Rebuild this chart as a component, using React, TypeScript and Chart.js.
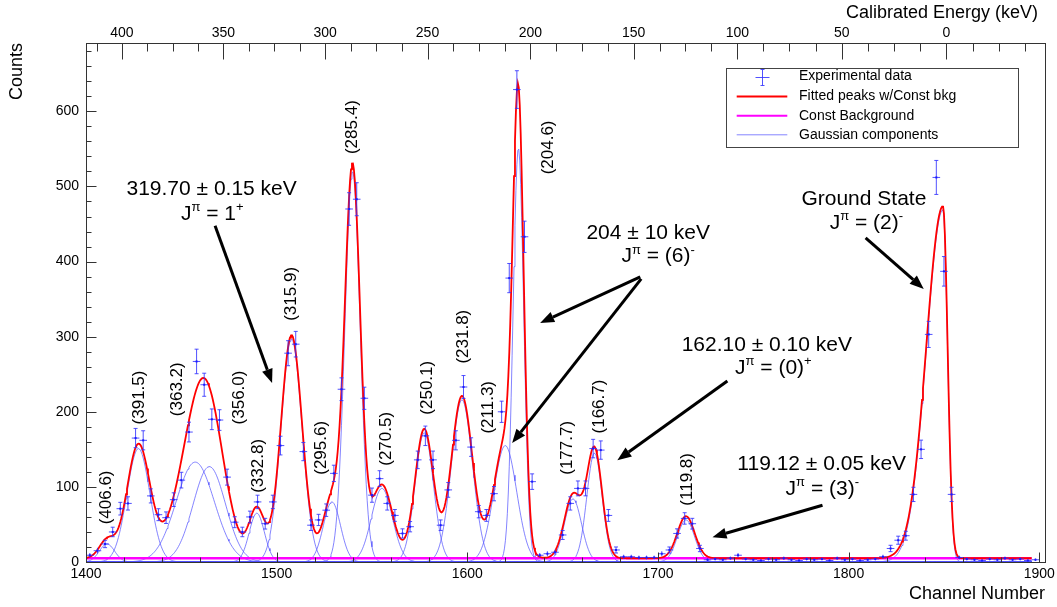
import React, { useEffect, useRef } from "react";
import { Chart, registerables } from "chart.js";

Chart.register(...registerables);

const FONT = "'Liberation Sans', Arial, Helvetica, sans-serif";

// ---------- Axis ranges / ticks ----------
const X_RANGE = [1400, 1903];
const Y_RANGE = [0, 691];
const FIT_RANGE = [1400, 1896];
const xMajorTicks = [1400, 1500, 1600, 1700, 1800, 1900];
const X_MINOR_STEP = 20;
const yMajorTicks = [0, 100, 200, 300, 400, 500, 600];
const Y_MINOR_STEP = 20;
const energyMajorTicks = [400, 350, 300, 250, 200, 150, 100, 50, 0];
const ENERGY_MINOR_STEP = 12.5;
// channel = c0 + c1*E + c2*E^2 (calibration of the top axis)
const energyCalibration = [1851.3, -1.1013, 5.04e-5];

// ---------- Experimental data (4-channel bins) ----------
const binChannels = [
  1402, 1406, 1410, 1414, 1418, 1422, 1426, 1430, 1434, 1438, 1442, 1446, 1450, 1454, 1458, 1462,
  1466, 1470, 1474, 1478, 1482, 1486, 1490, 1494, 1498, 1502, 1506, 1510, 1514, 1518, 1522, 1526,
  1530, 1534, 1538, 1542, 1546, 1550, 1554, 1558, 1562, 1566, 1570, 1574, 1578, 1582, 1586, 1590,
  1594, 1598, 1602, 1606, 1610, 1614, 1618, 1622, 1626, 1630, 1634, 1638, 1642, 1646, 1650, 1654,
  1658, 1662, 1666, 1670, 1674, 1678, 1682, 1686, 1690, 1694, 1698, 1702, 1706, 1710, 1714, 1718,
  1722, 1726, 1730, 1734, 1738, 1742, 1746, 1750, 1754, 1758, 1762, 1766, 1770, 1774, 1778, 1782,
  1786, 1790, 1794, 1798, 1802, 1806, 1810, 1814, 1818, 1822, 1826, 1830, 1834, 1838, 1842, 1846,
  1850, 1854, 1858, 1862, 1866, 1870, 1874, 1878, 1882, 1886, 1890, 1894, 1898,
];
const binCounts = [
  9, 15, 24, 40, 71, 78, 165, 162, 88, 63, 59, 83, 109, 173, 267, 236,
  190, 189, 113, 53, 40, 60, 80, 51, 80, 155, 278, 290, 147, 49, 56, 69,
  118, 230, 470, 483, 218, 89, 111, 78, 62, 38, 47, 136, 168, 136, 49, 96,
  162, 233, 153, 67, 62, 91, 200, 378, 629, 433, 107, 9, 11, 13, 36, 78,
  98, 98, 151, 149, 62, 16, 7, 7, 6, 6, 6, 11, 16, 38, 58, 51,
  18, 3, 4, 3, 5, 9, 4, 3, 2, 4, 3, 5, 3, 2, 4, 3,
  4, 2, 5, 3, 4, 2, 3, 4, 7, 18, 29, 35, 90, 150, 303, 512,
  387, 90, 6, 4, 3, 2, 4, 3, 5, 3, 4, 2, 3,
];
const BIN_HALF_WIDTH = 2;

// ---------- Fit parameters (Gaussian components) ----------
const CONST_BKG = 5;
const peakCenters = [1411, 1427.5, 1457.3, 1464.7, 1489.6, 1507.8, 1529, 1539.8, 1555.2, 1577.4, 1597.2, 1619.9, 1626.8, 1655.4, 1666.7, 1714.7, 1849.5];
const peakAmplitudes = [24, 151, 133, 127, 65, 297, 80, 520, 98, 172, 216, 155, 551, 84, 145, 56, 469];
const peakSigmaLeft = [4, 6, 10, 8.5, 4, 5.5, 4.5, 4, 5.5, 4.8, 5.5, 6, 2.8, 4.5, 4, 4.5, 8.7];
const peakSigmaRight = [4, 6, 10, 8.5, 4, 5.5, 4.5, 4, 5.5, 4.8, 5.5, 6, 2.8, 4.5, 4, 4.5, 2.4];

// ---------- Peak energy labels ----------
const peakLabelText = ["(406.6)", "(391.5)", "(363.2)", "(356.0)", "(332.8)", "(315.9)", "(295.6)", "(285.4)", "(270.5)", "(250.1)", "(231.8)", "(211.3)", "(204.6)", "(177.7)", "(166.7)", "(119.8)"];
const peakLabelChannel = [1410, 1427.5, 1447.6, 1480, 1489.6, 1507.4, 1522.8, 1539, 1557, 1578.3, 1597.2, 1610.3, 1641.8, 1651.9, 1668.8, 1714.7];
const peakLabelCount = [86, 219, 230, 219, 128, 357, 152, 579, 164, 232, 300, 206, 552, 152, 207, 110];

// ---------- Annotations ----------
// braces mark superscripts
const noteText = [
  "319.70 ± 0.15 keV", "J{π} = 1{+}",
  "204 ± 10 keV", "J{π} = (6){-}",
  "162.10 ± 0.10 keV", "J{π} = (0){+}",
  "119.12 ± 0.05 keV", "J{π} = (3){-}",
  "Ground State", "J{π} = (2){-}",
];
const noteChannel = [1465.9, 1466.2, 1694.9, 1700.1, 1757.1, 1760.5, 1785.9, 1786.2, 1808, 1809.3];
const noteCount = [499, 465, 440, 409, 291.6, 261, 133, 99.6, 485.6, 453];

const arrowFromChannel = [1467.7, 1690.7, 1691.2, 1736.4, 1786.3, 1808.9];
const arrowFromCount = [447.6, 379.6, 376.9, 241, 75.6, 431.6];
const arrowToChannel = [1497.6, 1638.2, 1623.5, 1678.7, 1728.6, 1839.4];
const arrowToCount = [238.3, 318.3, 158.3, 135.6, 33, 363.6];

const legendLabels = ["Experimental data", "Fitted peaks w/Const bkg", "Const Background", "Gaussian components"];

// ---------- Colors ----------
const DATA_COLOR = "rgba(50,50,255,0.85)";
const FIT_COLOR = "#ff0000";
const BKG_COLOR = "#ff00ff";
const COMP_COLOR = "rgba(80,80,255,0.7)";

function peakValue(i: number, x: number): number {
  const s = x < peakCenters[i] ? peakSigmaLeft[i] : peakSigmaRight[i];
  const d = (x - peakCenters[i]) / s;
  return peakAmplitudes[i] * Math.exp(-0.5 * d * d);
}

function sampleGrid(): number[] {
  const xs: number[] = [];
  for (let x = FIT_RANGE[0]; x <= FIT_RANGE[1] + 1e-9; x += 0.5) xs.push(x);
  return xs;
}

function energyToChannel(e: number): number {
  return energyCalibration[0] + energyCalibration[1] * e + energyCalibration[2] * e * e;
}

function parseRich(s: string): { t: string; sup: boolean }[] {
  const out: { t: string; sup: boolean }[] = [];
  const re = /\{([^}]*)\}|([^{]+)/g;
  let m: RegExpExecArray | null;
  while ((m = re.exec(s))) {
    if (m[1] !== undefined) out.push({ t: m[1], sup: true });
    else out.push({ t: m[2], sup: false });
  }
  return out;
}

function drawRich(ctx: CanvasRenderingContext2D, text: string, cx: number, cy: number, size: number) {
  const segs = parseRich(text);
  const big = `${size}px ${FONT}`;
  const small = `${Math.round(size * 0.64)}px ${FONT}`;
  let w = 0;
  for (const s of segs) {
    ctx.font = s.sup ? small : big;
    w += ctx.measureText(s.t).width;
  }
  let x = cx - w / 2;
  const base = cy + size * 0.36;
  ctx.textAlign = "left";
  ctx.textBaseline = "alphabetic";
  for (const s of segs) {
    ctx.font = s.sup ? small : big;
    ctx.fillText(s.t, x, s.sup ? base - size * 0.42 : base);
    x += ctx.measureText(s.t).width;
  }
}

function drawArrow(ctx: CanvasRenderingContext2D, x0: number, y0: number, x1: number, y1: number) {
  const ang = Math.atan2(y1 - y0, x1 - x0);
  const len = 14;
  const half = 5.5;
  const bx = x1 - len * Math.cos(ang);
  const by = y1 - len * Math.sin(ang);
  ctx.save();
  ctx.strokeStyle = "#000";
  ctx.fillStyle = "#000";
  ctx.lineWidth = 3;
  ctx.beginPath();
  ctx.moveTo(x0, y0);
  ctx.lineTo(bx, by);
  ctx.stroke();
  ctx.beginPath();
  ctx.moveTo(x1, y1);
  ctx.lineTo(bx + half * Math.sin(ang), by - half * Math.cos(ang));
  ctx.lineTo(bx - half * Math.sin(ang), by + half * Math.cos(ang));
  ctx.closePath();
  ctx.fill();
  ctx.restore();
}

function drawErrorCross(ctx: CanvasRenderingContext2D, px: number, py: number, hx: number, hyTop: number, hyBot: number) {
  ctx.beginPath();
  ctx.moveTo(px - hx, py);
  ctx.lineTo(px + hx, py);
  ctx.moveTo(px, py - hyTop);
  ctx.lineTo(px, py + hyBot);
  if (hyTop > 3) {
    ctx.moveTo(px - 2, py - hyTop);
    ctx.lineTo(px + 2, py - hyTop);
  }
  if (hyBot > 3) {
    ctx.moveTo(px - 2, py + hyBot);
    ctx.lineTo(px + 2, py + hyBot);
  }
  ctx.stroke();
}

const overlayPlugin = {
  id: "rootOverlay",
  afterDatasetsDraw(chart: any) {
    const ctx: CanvasRenderingContext2D = chart.ctx;
    const xs = chart.scales.x;
    const ys = chart.scales.y;
    const ca = chart.chartArea;
    ctx.save();
    ctx.beginPath();
    ctx.rect(ca.left, ca.top, ca.right - ca.left, ca.bottom - ca.top);
    ctx.clip();
    // data with error bars
    ctx.strokeStyle = DATA_COLOR;
    ctx.lineWidth = 1;
    for (let i = 0; i < binChannels.length; i++) {
      const c = binCounts[i];
      const err = Math.sqrt(c);
      const px = xs.getPixelForValue(binChannels[i]);
      const py = ys.getPixelForValue(c);
      const hx = Math.abs(xs.getPixelForValue(binChannels[i] + BIN_HALF_WIDTH) - px);
      const top = py - ys.getPixelForValue(c + err);
      const bot = ys.getPixelForValue(Math.max(0, c - err)) - py;
      drawErrorCross(ctx, px, py, hx, top, bot);
      ctx.fillStyle = "#1a1aff";
      ctx.fillRect(px - 1, py - 1, 2, 2);
    }
    ctx.restore();
  },
  afterDraw(chart: any) {
    const ctx: CanvasRenderingContext2D = chart.ctx;
    const xs = chart.scales.x;
    const ys = chart.scales.y;
    const ca = chart.chartArea;
    ctx.save();

    // frame
    ctx.strokeStyle = "#333";
    ctx.lineWidth = 1;
    const L = Math.round(ca.left) + 0.5;
    const R = Math.round(ca.right) + 0.5;
    const T = Math.round(ca.top) + 0.5;
    const B = Math.round(ca.bottom) + 0.5;
    ctx.strokeRect(L, T, R - L, B - T);

    ctx.beginPath();
    // bottom ticks
    for (let v = X_RANGE[0]; v <= X_RANGE[1]; v += X_MINOR_STEP) {
      const px = Math.round(xs.getPixelForValue(v)) + 0.5;
      const major = xMajorTicks.includes(v);
      ctx.moveTo(px, B);
      ctx.lineTo(px, B - (major ? 10 : 5));
    }
    // left ticks
    for (let v = Y_RANGE[0]; v <= Y_RANGE[1]; v += Y_MINOR_STEP) {
      const py = Math.round(ys.getPixelForValue(v)) + 0.5;
      const major = yMajorTicks.includes(v);
      ctx.moveTo(L, py);
      ctx.lineTo(L + (major ? 10 : 5), py);
    }
    // top energy ticks
    for (let e = energyMajorTicks[0] + 2 * ENERGY_MINOR_STEP; e >= -4 * ENERGY_MINOR_STEP; e -= ENERGY_MINOR_STEP) {
      const ch = energyToChannel(e);
      if (ch < X_RANGE[0] || ch > X_RANGE[1]) continue;
      const px = Math.round(xs.getPixelForValue(ch)) + 0.5;
      const major = energyMajorTicks.includes(e);
      ctx.moveTo(px, T);
      ctx.lineTo(px, T + (major ? 16 : 8));
    }
    ctx.stroke();

    // tick labels
    ctx.fillStyle = "#000";
    ctx.font = `14px ${FONT}`;
    ctx.textAlign = "center";
    ctx.textBaseline = "middle";
    for (const v of xMajorTicks) ctx.fillText(String(v), xs.getPixelForValue(v), ca.bottom + 12);
    for (const e of energyMajorTicks) ctx.fillText(String(e), xs.getPixelForValue(energyToChannel(e)), ca.top - 10);
    ctx.textAlign = "right";
    for (const v of yMajorTicks) ctx.fillText(String(v), ca.left - 7, ys.getPixelForValue(v));

    // axis titles
    ctx.font = `18px ${FONT}`;
    ctx.textAlign = "right";
    ctx.textBaseline = "middle";
    ctx.fillText("Channel Number", ca.right, ca.bottom + 32);
    ctx.fillText("Calibrated Energy (keV)", ca.right - 7, 13);
    ctx.save();
    ctx.translate(17, ca.top);
    ctx.rotate(-Math.PI / 2);
    ctx.textAlign = "right";
    ctx.fillText("Counts", 0, 0);
    ctx.restore();

    // peak labels (rotated)
    ctx.font = `17px ${FONT}`;
    ctx.textAlign = "center";
    ctx.textBaseline = "middle";
    for (let i = 0; i < peakLabelText.length; i++) {
      ctx.save();
      ctx.translate(xs.getPixelForValue(peakLabelChannel[i]), ys.getPixelForValue(peakLabelCount[i]));
      ctx.rotate(-Math.PI / 2);
      ctx.fillText(peakLabelText[i], 0, 1);
      ctx.restore();
    }

    // annotations
    for (let i = 0; i < noteText.length; i++) {
      drawRich(ctx, noteText[i], xs.getPixelForValue(noteChannel[i]), ys.getPixelForValue(noteCount[i]), 21);
    }
    for (let i = 0; i < arrowFromChannel.length; i++) {
      drawArrow(
        ctx,
        xs.getPixelForValue(arrowFromChannel[i]),
        ys.getPixelForValue(arrowFromCount[i]),
        xs.getPixelForValue(arrowToChannel[i]),
        ys.getPixelForValue(arrowToCount[i])
      );
    }

    // legend box
    const bx = ca.right - 319;
    const by = ca.top + 24.5;
    const bw = 292;
    const bh = 79;
    ctx.fillStyle = "#fff";
    ctx.fillRect(bx, by, bw, bh);
    ctx.strokeStyle = "#444";
    ctx.lineWidth = 1;
    ctx.strokeRect(Math.round(bx) + 0.5, Math.round(by) + 0.5, bw, bh);
    const rows = [9, 29, 48.3, 67.3];
    ctx.font = `14px ${FONT}`;
    ctx.textAlign = "left";
    ctx.textBaseline = "middle";
    ctx.fillStyle = "#000";
    for (let i = 0; i < legendLabels.length; i++) {
      ctx.fillStyle = "#000";
      ctx.fillText(legendLabels[i], bx + 73, by + rows[i]);
    }
    // entry symbols
    ctx.strokeStyle = DATA_COLOR;
    ctx.lineWidth = 1;
    drawErrorCross(ctx, Math.round(bx + 35.7) + 0.5, Math.round(by + rows[0]) + 0.5, 7, 8, 8);
    const sample = (row: number, color: string, w: number) => {
      ctx.strokeStyle = color;
      ctx.lineWidth = w;
      ctx.beginPath();
      ctx.moveTo(bx + 10.7, by + row);
      ctx.lineTo(bx + 61.3, by + row);
      ctx.stroke();
    };
    sample(rows[1], FIT_COLOR, 2);
    sample(rows[2], BKG_COLOR, 2);
    sample(rows[3], COMP_COLOR, 1);

    ctx.restore();
  },
};

export default function App() {
  const canvasRef = useRef<HTMLCanvasElement | null>(null);

  useEffect(() => {
    const canvas = canvasRef.current;
    if (!canvas) return;
    const grid = sampleGrid();

    const componentSets = peakCenters.map((_, i) => ({
      label: `Gaussian ${i + 1}`,
      data: grid.map((x) => ({ x, y: peakValue(i, x) })),
      borderColor: COMP_COLOR,
      borderWidth: 1,
      pointRadius: 0,
      fill: false,
      tension: 0,
      order: 3,
    }));

    const fitData = grid.map((x) => {
      let y = CONST_BKG;
      for (let i = 0; i < peakCenters.length; i++) y += peakValue(i, x);
      return { x, y };
    });

    const chart = new Chart(canvas, {
      type: "line",
      data: {
        datasets: [
          ...componentSets,
          {
            label: "Const Background",
            data: [
              { x: FIT_RANGE[0], y: CONST_BKG },
              { x: FIT_RANGE[1], y: CONST_BKG },
            ],
            borderColor: BKG_COLOR,
            borderWidth: 2.5,
            pointRadius: 0,
            fill: false,
            order: 2,
          },
          {
            label: "Fitted peaks w/Const bkg",
            data: fitData,
            borderColor: FIT_COLOR,
            borderWidth: 1.8,
            pointRadius: 0,
            fill: false,
            tension: 0,
            order: 1,
          },
        ] as any,
      },
      options: {
        animation: false,
        responsive: true,
        maintainAspectRatio: false,
        parsing: false,
        normalized: true,
        layout: { padding: { left: 86, right: 12, top: 43, bottom: 45 } },
        plugins: { legend: { display: false }, tooltip: { enabled: false } },
        events: [],
        scales: {
          x: { type: "linear", display: false, min: X_RANGE[0], max: X_RANGE[1] },
          y: { type: "linear", display: false, min: Y_RANGE[0], max: Y_RANGE[1] },
        },
      } as any,
      plugins: [overlayPlugin],
    });

    return () => chart.destroy();
  }, []);

  return (
    <div style={{ position: "fixed", left: 0, top: 0, width: 1057, height: 607, background: "#fff" }}>
      <canvas ref={canvasRef} />
    </div>
  );
}
